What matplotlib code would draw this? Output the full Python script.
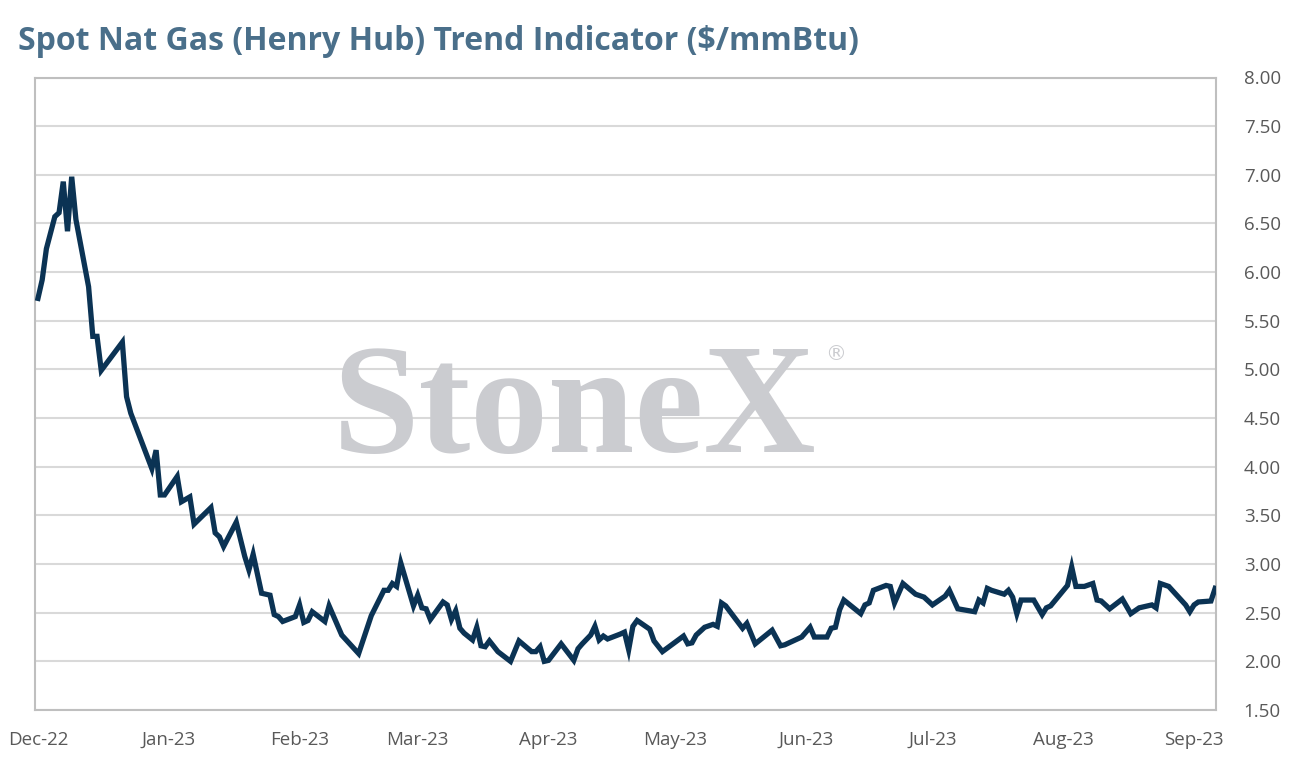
import numpy as np
import matplotlib
matplotlib.use("Agg")
import matplotlib.pyplot as plt
import matplotlib.dates as mdates
import datetime as dt

# ---- data ----
start_date = "2022-12-01"
day_offsets = [0, 1, 2, 4, 5, 6, 7, 8, 9, 12, 13, 14, 15, 20, 21, 22, 27, 28, 29, 30,
               33, 34, 36, 37, 41, 42, 43, 44, 47, 49, 50, 51, 53, 55, 56, 57, 58, 61, 62, 63,
               64, 65, 68, 69, 72, 76, 79, 82, 83, 84, 85, 86, 89, 90, 91, 92, 93, 96, 97, 98,
               99, 100, 101, 103, 104, 105, 106, 107, 109, 112, 114, 117, 118, 119, 120, 121, 124, 127, 128, 129,
               131, 132, 133, 134, 135, 138, 139, 140, 141, 142, 145, 146, 148, 153, 154, 155, 156, 158, 160, 161,
               162, 163, 167, 168, 170, 174, 176, 177, 181, 183, 184, 187, 188, 189, 190, 191, 195, 196, 197, 198,
               201, 202, 203, 205, 208, 210, 212, 215, 216, 218, 222, 223, 224, 225, 226, 229, 230, 231, 232, 233,
               236, 238, 239, 240, 244, 245, 246, 248, 250, 251, 252, 254, 257, 259, 261, 264, 265, 266, 268, 272,
               273, 274, 275, 278, 279]
prices = [5.73, 5.92, 6.24, 6.57, 6.61, 6.93, 6.42, 6.98, 6.54, 5.85, 5.34, 5.34, 4.99, 5.28, 4.72, 4.55, 3.98, 4.17, 3.71, 3.71,
          3.90, 3.64, 3.69, 3.41, 3.58, 3.32, 3.28, 3.18, 3.43, 3.08, 2.94, 3.10, 2.70, 2.68, 2.48, 2.46, 2.41, 2.46, 2.58, 2.40,
          2.42, 2.51, 2.41, 2.57, 2.27, 2.08, 2.47, 2.73, 2.73, 2.80, 2.77, 3.01, 2.57, 2.68, 2.55, 2.54, 2.43, 2.61, 2.58, 2.43,
          2.52, 2.34, 2.29, 2.22, 2.35, 2.16, 2.15, 2.21, 2.10, 2.00, 2.21, 2.10, 2.10, 2.15, 2.00, 2.01, 2.18, 2.01, 2.13, 2.18,
          2.27, 2.36, 2.22, 2.26, 2.23, 2.28, 2.30, 2.12, 2.36, 2.42, 2.33, 2.21, 2.10, 2.26, 2.18, 2.19, 2.27, 2.35, 2.38, 2.36,
          2.60, 2.57, 2.34, 2.39, 2.18, 2.32, 2.16, 2.17, 2.25, 2.35, 2.25, 2.25, 2.34, 2.35, 2.53, 2.63, 2.49, 2.58, 2.60, 2.73,
          2.78, 2.77, 2.60, 2.80, 2.69, 2.66, 2.58, 2.67, 2.73, 2.54, 2.51, 2.63, 2.60, 2.75, 2.73, 2.69, 2.73, 2.66, 2.49, 2.63,
          2.63, 2.48, 2.55, 2.57, 2.78, 2.97, 2.77, 2.77, 2.80, 2.63, 2.62, 2.54, 2.64, 2.49, 2.55, 2.58, 2.55, 2.80, 2.77, 2.58,
          2.51, 2.58, 2.61, 2.62, 2.75]
month_ticks = ["2022-12-01", "2023-01-01", "2023-02-01", "2023-03-01", "2023-04-01", "2023-05-01",
               "2023-06-01", "2023-07-01", "2023-08-01", "2023-09-01"]
y_ticks = [1.5, 2.0, 2.5, 3.0, 3.5, 4.0, 4.5, 5.0, 5.5, 6.0, 6.5, 7.0, 7.5, 8.0]
title = "Spot Nat Gas (Henry Hub) Trend Indicator ($/mmBtu)"

# ---- figure ----
W, H = 1294, 771
fig = plt.figure(figsize=(W / 100, H / 100), dpi=100)
ax = fig.add_axes([35 / W, 1 - 710 / H, (1216 - 35) / W, (710 - 77.5) / H])

t0 = dt.datetime.strptime(start_date, "%Y-%m-%d")
dates = [t0 + dt.timedelta(days=d) for d in day_offsets]

ax.plot(dates, prices, color="#0b3354", lw=3.8, solid_joinstyle="miter", zorder=3)

ax.set_ylim(1.5, 8.0)
ax.set_xlim(t0 - dt.timedelta(days=0.7), t0 + dt.timedelta(days=279.2))
ax.set_yticks(y_ticks)
ax.yaxis.tick_right()
ax.yaxis.set_major_formatter(matplotlib.ticker.FormatStrFormatter("%.2f"))
ax.set_xticks([dt.datetime.strptime(m, "%Y-%m-%d") for m in month_ticks])
ax.xaxis.set_major_formatter(mdates.DateFormatter("%b-%y"))

tick_font = "Open Sans"
ax.tick_params(axis="y", length=0, pad=20, labelsize=13.5, labelcolor="#595959")
ax.tick_params(axis="x", length=0, pad=15, labelsize=13.5, labelcolor="#595959")
for lab in ax.get_xticklabels() + ax.get_yticklabels():
    lab.set_fontfamily(tick_font)

ax.grid(axis="y", color="#d9d9d9", lw=1.5)
ax.set_axisbelow(True)
for s in ax.spines.values():
    s.set_color("#bfbfbf")
    s.set_linewidth(1.5)

# watermark
fig.text(333 / W, 1 - 452 / H, "StoneX", family="Liberation Serif", fontweight="bold",
         fontsize=112, color="#cbccd0", ha="left", va="baseline", zorder=0.1)
fig.text(836 / W, 1 - 354 / H, "®", family="DejaVu Sans", fontsize=15,
         color="#cbccd0", ha="center", va="center", zorder=0.1)

fig.text(18 / W, 1 - 41 / H, title, family="Open Sans", fontweight="bold", fontsize=23,
         color="#4a6f8a", ha="left", va="center")

fig.savefig("out.png", dpi=100)
